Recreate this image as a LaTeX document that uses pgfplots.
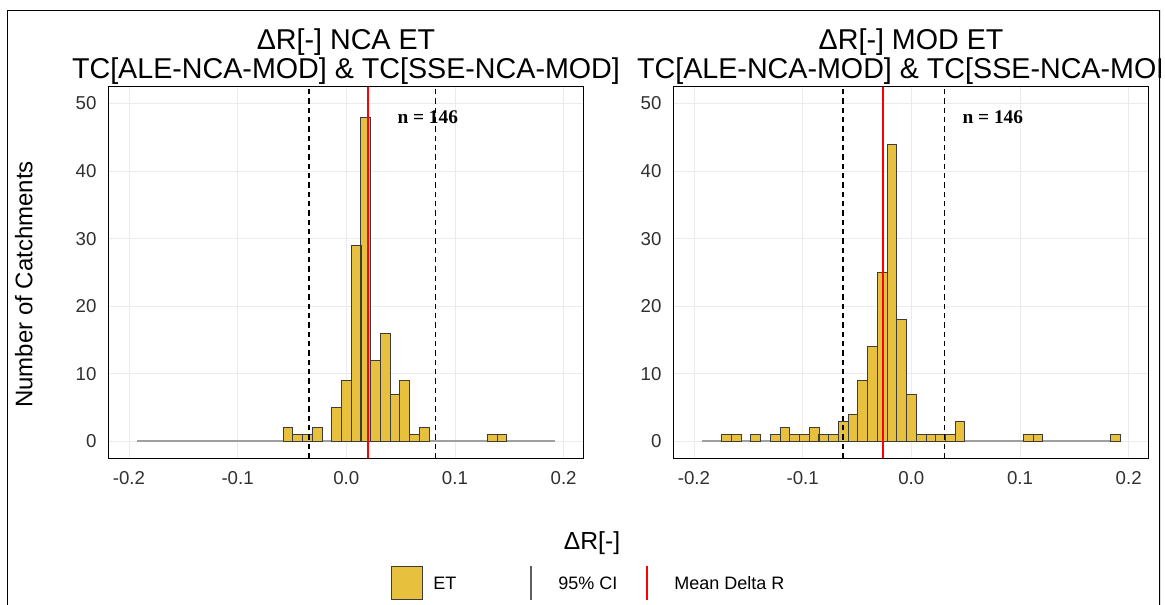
\documentclass[border=0pt]{standalone}
\usepackage{pgfplots}
\usepackage{pgfplotstable}
\pgfplotsset{compat=1.18}
\usepackage{fontspec}
\setmainfont{Liberation Sans}
\newfontfamily\annotfont{Liberation Serif}

\definecolor{barfill}{RGB}{231,193,62}
\definecolor{baredge}{RGB}{60,60,60}
\definecolor{gridc}{RGB}{235,235,235}
\definecolor{basec}{RGB}{160,160,160}
\definecolor{tickc}{RGB}{48,48,48}
\definecolor{cikey}{RGB}{95,95,95}
\definecolor{meanred}{RGB}{255,0,0}

% Histogram counts, bins 0.00895 wide (centres at k*0.00895)
\pgfplotstableread{
x count
-0.0537 2
-0.0448 1
-0.0358 1
-0.0269 2
-0.0090 5
0.0000 9
0.0090 29
0.0179 48
0.0269 12
0.0358 16
0.0448 7
0.0537 9
0.0627 1
0.0716 2
0.1343 1
0.1432 1
}\ncadata

\pgfplotstableread{
x count
-0.1701 1
-0.1611 1
-0.1432 1
-0.1253 1
-0.1164 2
-0.1074 1
-0.0985 1
-0.0895 2
-0.0806 1
-0.0716 1
-0.0627 3
-0.0537 4
-0.0448 9
-0.0358 14
-0.0269 25
-0.0179 44
-0.0090 18
0.0000 7
0.0090 1
0.0179 1
0.0269 1
0.0358 1
0.0448 3
0.1074 1
0.1164 1
0.1880 1
}\moddata

\pgfplotsset{
  histpanel/.style={
    anchor=south west,
    scale only axis, width=356.6pt, height=278.7pt,
    xmin=-0.219, xmax=0.2185, ymin=-2.5, ymax=52.5,
    xtick={-0.2,-0.1,0,0.1,0.2}, xticklabels={-0.2,-0.1,0.0,0.1,0.2},
    ytick={0,10,20,30,40,50}, yticklabels={0,10,20,30,40,50},
    major tick length=0pt,
    grid=major, major grid style={gridc, line width=0.6pt},
    axis line style={black, line width=1pt},
    tick label style={font=\fontsize{14}{14}\selectfont, text=tickc},
    xticklabel style={anchor=north, inner sep=0pt, yshift=-10pt},
    yticklabel style={anchor=east, inner sep=0pt, xshift=-8.7pt},
    title style={at={(0.5,1)}, anchor=south, inner sep=0pt, yshift=-4.5pt,
      align=center, font=\fontsize{21.5}{21.75}\selectfont},
  },
  basestyle/.style={basec, line width=1.4pt, forget plot},
  barstyle/.style={ybar, bar width=0.00895, bar shift=0pt, fill=barfill,
    draw=baredge, line width=0.6pt},
  cistyle/.style={black, line width=1pt, dash pattern=on 4pt off 3pt},
  meanstyle/.style={meanred, line width=1.1pt},
}

\begin{document}
\begin{tikzpicture}
\useasboundingbox (0pt,0pt) rectangle (873.75pt,-453pt);
\begin{scope}
\clip (5.25pt,-7.5pt) rectangle (870pt,-480pt);

% left panel
\begin{axis}[histpanel, at={(81.2pt,-343.7pt)},
  title={ΔR[-] NCA ET\\TC[ALE-NCA-MOD] \& TC[SSE-NCA-MOD]},
  ylabel={Number of Catchments},
  ylabel style={at={(axis description cs:-0.1775,0.468)}, anchor=center,
    font=\fontsize{18}{18}\selectfont},
]
\addplot[basestyle] coordinates {(-0.1925,0) (0.1924,0)};
\addplot[barstyle] table[x=x,y=count] {\ncadata};
\addplot[cistyle] coordinates {(-0.0343,-2.5) (-0.0343,52.5)};
\addplot[cistyle] coordinates {(0.0822,-2.5) (0.0822,52.5)};
\addplot[meanstyle] coordinates {(0.0200,-2.5) (0.0200,52.5)};
\node[font=\fontsize{14.5}{14.5}\annotfont\bfseries] at (axis cs:0.075,48) {n = 146};
\end{axis}

% right panel
\begin{axis}[histpanel, at={(505.0pt,-343.7pt)},
  title={ΔR[-] MOD ET\\TC[ALE-NCA-MOD] \& TC[SSE-NCA-MOD]},
]
\addplot[basestyle] coordinates {(-0.1925,0) (0.1924,0)};
\addplot[barstyle] table[x=x,y=count] {\moddata};
\addplot[cistyle] coordinates {(-0.0630,-2.5) (-0.0630,52.5)};
\addplot[cistyle] coordinates {(0.0308,-2.5) (0.0308,52.5)};
\addplot[meanstyle] coordinates {(-0.0259,-2.5) (-0.0259,52.5)};
\node[font=\fontsize{14.5}{14.5}\annotfont\bfseries] at (axis cs:0.075,48) {n = 146};
\end{axis}

\begin{scope}[x=0.75pt, y=-0.75pt]
  % shared x axis title
  \node[anchor=base, inner sep=0pt, font=\fontsize{18.5}{18.5}\selectfont] at (592,549) {ΔR[-]};
  % legend
  \filldraw[fill=barfill, draw=baredge, line width=0.6pt] (391,566) rectangle (422,599.5);
  \node[anchor=base west, inner sep=0pt, font=\fontsize{13.5}{13.5}\selectfont] at (433,589.5) {ET};
  \draw[cikey, line width=1.4pt] (531,566) -- (531,599.5);
  \node[anchor=base west, inner sep=0pt, font=\fontsize{13.5}{13.5}\selectfont] at (558,589.5) {95\% CI};
  \draw[meanred, line width=1.4pt] (647.3,566) -- (647.3,599.5);
  \node[anchor=base west, inner sep=0pt, font=\fontsize{13.5}{13.5}\selectfont] at (674,589.5) {Mean Delta R};
  % outer frame
  \draw[black, line width=2pt] (7,10) rectangle (1160,640);
\end{scope}
\end{scope}
\end{tikzpicture}
\end{document}
